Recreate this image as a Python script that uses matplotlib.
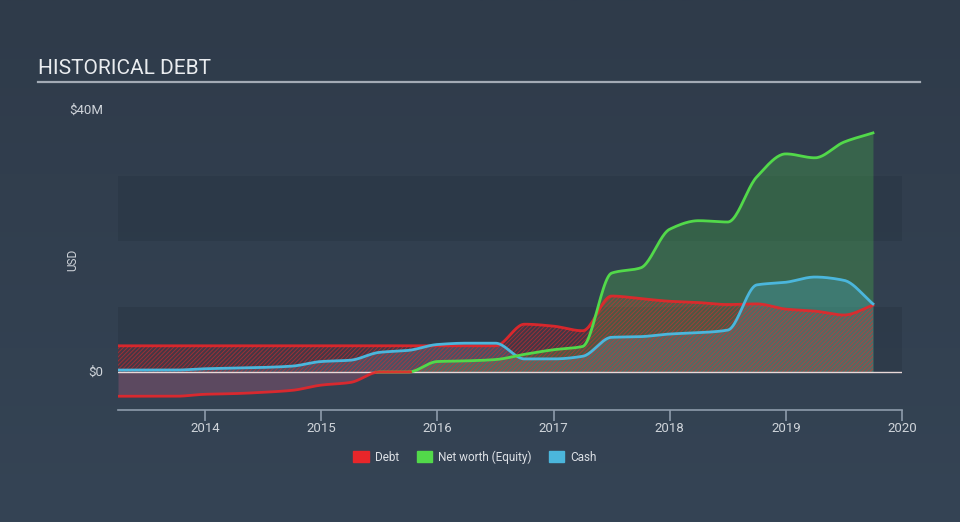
import numpy as np
import matplotlib
matplotlib.use("Agg")
import matplotlib.pyplot as plt
from matplotlib.patches import Rectangle

plt.rcParams['font.family'] = ['Roboto', 'DejaVu Sans']
plt.rcParams['hatch.linewidth'] = 0.7

# ---- data (USD millions) ----
dates = [2013.25, 2013.5, 2013.75, 2014.0, 2014.25, 2014.5, 2014.75, 2015.0, 2015.25,
         2015.5, 2015.75, 2016.0, 2016.25, 2016.5, 2016.75, 2017.0, 2017.25, 2017.5,
         2017.75, 2018.0, 2018.25, 2018.5, 2018.75, 2019.0, 2019.25, 2019.5, 2019.75]
debt = [4.0, 4.0, 4.0, 4.0, 4.0, 4.0, 4.0, 4.0, 4.0,
        4.0, 4.0, 4.0, 4.0, 4.0, 7.3, 7.0, 6.3, 11.6,
        11.2, 10.8, 10.6, 10.3, 10.4, 9.6, 9.3, 8.7, 10.2]
equity = [-3.7, -3.7, -3.7, -3.4, -3.3, -3.1, -2.8, -2.0, -1.6,
          0.0, 0.0, 1.6, 1.7, 1.9, 2.7, 3.4, 3.9, 15.1,
          15.9, 21.8, 23.1, 22.9, 29.8, 33.3, 32.7, 35.1, 36.5]
cash = [0.3, 0.3, 0.3, 0.5, 0.6, 0.7, 0.9, 1.6, 1.8,
        3.0, 3.3, 4.2, 4.4, 4.4, 2.0, 2.0, 2.4, 5.3,
        5.4, 5.8, 6.0, 6.4, 13.3, 13.7, 14.5, 14.0, 10.4]
year_ticks = [2014, 2015, 2016, 2017, 2018, 2019, 2020]
legend_labels = ['Debt', 'Net worth (Equity)', 'Cash']


def monotone(x, y, n=600):
    x = np.asarray(x, float); y = np.asarray(y, float)
    h = np.diff(x); d = np.diff(y) / h
    m = np.zeros_like(y)
    m[0], m[-1] = d[0], d[-1]
    for k in range(1, len(x) - 1):
        if d[k - 1] * d[k] <= 0:
            m[k] = 0
        else:
            w1 = 2 * h[k] + h[k - 1]; w2 = h[k] + 2 * h[k - 1]
            m[k] = (w1 + w2) / (w1 / d[k - 1] + w2 / d[k])
    xs = np.linspace(x[0], x[-1], n)
    idx = np.clip(np.searchsorted(x, xs) - 1, 0, len(x) - 2)
    t = (xs - x[idx]) / h[idx]
    h00 = 2 * t**3 - 3 * t**2 + 1; h10 = t**3 - 2 * t**2 + t
    h01 = -2 * t**3 + 3 * t**2; h11 = t**3 - t**2
    ys = h00 * y[idx] + h10 * h[idx] * m[idx] + h01 * y[idx + 1] + h11 * h[idx] * m[idx + 1]
    return xs, ys


W, H = 960, 522
fig = plt.figure(figsize=(W / 100, H / 100), dpi=100)

# background gradient
bg = fig.add_axes([0, 0, 1, 1])
grad = np.linspace(0, 1, 256).reshape(-1, 1)
top = np.array([0x2f, 0x3b, 0x4a]) / 255
bot = np.array([0x35, 0x44, 0x55]) / 255
img = top[None, None, :] * (1 - grad[:, :, None]) + bot[None, None, :] * grad[:, :, None]
bg.imshow(img, aspect='auto', extent=[0, 1, 0, 1])
bg.set_xlim(0, 1); bg.set_ylim(0, 1); bg.axis('off')

# title
fig.text(38 / W, 1 - 69 / H, 'HISTORICAL DEBT', color='#e9ecef', fontsize=15,
         ha='left', va='center')
bg.plot([38 / W, 920 / W], [1 - 82 / H, 1 - 82 / H], color='#a3abb5', lw=1.6)

ax = fig.add_axes([118 / W, 1 - 410 / H, (902 - 118) / W, 300 / H])
ax.set_facecolor('none')
ax.set_xlim(2013.25, 2020.0)
ax.set_ylim(-5.8, 40)

# bands
for lo, hi in [(0, 10), (20, 30)]:
    ax.axhspan(lo, hi, color='#283442', alpha=0.45, lw=0, zorder=0)

xs, eq_s = monotone(dates, equity)
_, de_s = monotone(dates, debt)
_, ca_s = monotone(dates, cash)

RED = '#e8262a'
GREEN = '#52d94a'
BLUE = '#4bb6dc'

# equity fill
ax.fill_between(xs, 0, eq_s, where=eq_s >= 0, color=GREEN, alpha=0.25, lw=0, zorder=1,
                interpolate=True)
ax.fill_between(xs, eq_s, 0, where=eq_s < 0, color='#d8618c', alpha=0.25, lw=0, zorder=1,
                interpolate=True)
# cash fill
ax.fill_between(xs, 0, ca_s, color=BLUE, alpha=0.25, lw=0, zorder=2)
# debt hatch
ax.fill_between(xs, 0, de_s, facecolor=(0.91, 0.15, 0.16, 0.12),
                edgecolor=(0.91, 0.15, 0.16, 0.55), hatch='////////', lw=0, zorder=3)

# zero line
ax.axhline(0, color='#e8d8d8', lw=1.0, zorder=4)

# lines
ax.plot(xs, de_s, color=RED, lw=2, zorder=5, alpha=0.9)
ax.plot(xs, ca_s, color=BLUE, lw=2, zorder=6)
eq_pos = np.ma.masked_where(eq_s < -0.05, eq_s)
eq_neg = np.ma.masked_where(eq_s > 0.05, eq_s)
ax.plot(xs, eq_pos, color=GREEN, lw=2, zorder=7)
ax.plot(xs, eq_neg, color=RED, lw=2, zorder=7, alpha=0.9)

# axes styling
for s in ['top', 'right', 'left']:
    ax.spines[s].set_visible(False)
ax.spines['bottom'].set_color('#8e9cac')
ax.spines['bottom'].set_linewidth(1.2)
ax.set_xticks(year_ticks)
ax.set_xticklabels([str(y) for y in year_ticks])
ax.tick_params(axis='x', colors='#8e9cac', length=8, width=1.2, labelcolor='#cfd4da',
               labelsize=9.5, pad=1)
ax.set_yticks([])

fig.text(103 / W, 1 - 110 / H, '$40M', color='#cfd4da', fontsize=9.5, ha='right', va='center')
fig.text(103 / W, 1 - 372 / H, '$0', color='#cfd4da', fontsize=9.5, ha='right', va='center')
fig.text(73 / W, 1 - 260 / H, 'USD', color='#cfd4da', fontsize=8.5, ha='center',
         va='center', rotation=90)

# legend
handles = [Rectangle((0, 0), 1, 1, color=c) for c in [RED, GREEN, BLUE]]
fig.legend(handles, legend_labels, loc='center', bbox_to_anchor=(475 / W, 1 - 457 / H),
           ncol=3, frameon=False, fontsize=8.5, labelcolor='#dde1e6',
           handlelength=1.3, handleheight=1.0, columnspacing=1.5, handletextpad=0.5)

fig.savefig('out.png', dpi=100)
